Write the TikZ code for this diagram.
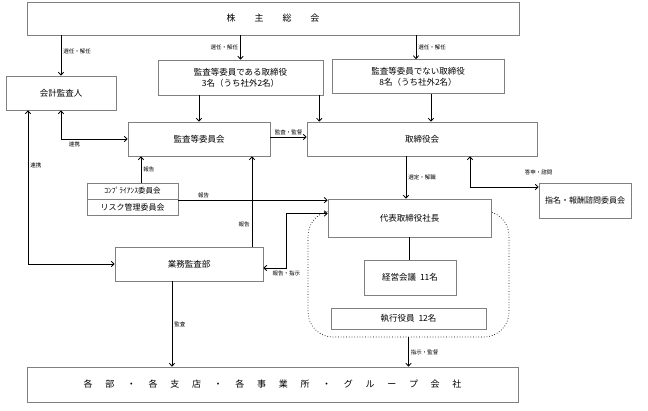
\documentclass[tikz,border=0pt]{standalone}
\usepackage{fontspec}
\setmainfont{Noto Sans CJK JP}
\usetikzlibrary{arrows.meta,positioning}
\newcommand{\wsp}{\hspace{12.7pt}}

\begin{document}
\begin{tikzpicture}[x=1pt, y=-1pt, >={Straight Barb[length=3pt,width=5.5pt]},
    box/.style={draw=gray, fill=white, line width=.6pt, align=center, inner sep=0pt, font=\fontsize{8.5}{11}\selectfont},
    lbl/.style={font=\fontsize{5.5}{6}\selectfont, inner sep=2pt},
    arr/.style={->, line width=.8pt}]
    \useasboundingbox (0,0) rectangle (648,411);
    \node[draw, dotted, rounded corners=25pt, line width=.7pt, minimum width=201pt, minimum height=126pt] (group) at (408.5,274) {};
    \node[box, minimum width=492pt, minimum height=33pt, font=\fontsize{9}{10}\selectfont] (soukai) at (273,18.5) {株\hspace{19pt}主\hspace{19pt}総\hspace{19pt}会};
    \node[box, minimum width=110pt, minimum height=34pt] (kaikei) at (61,93) {会計監査人};
    \node[box, minimum width=165pt, minimum height=35pt] (kansatori) at (240.5,77.5) {監査等委員である取締役\\3名（うち社外2名）};
    \node[box, minimum width=172pt, minimum height=34pt] (torinot) at (418,76.5) {監査等委員でない取締役\\8名（うち社外2名）};
    \node[box, minimum width=142pt, minimum height=34pt] (kansaiin) at (199,139) {監査等委員会};
    \node[box, minimum width=230pt, minimum height=34pt] (torikai) at (422,139) {取締役会};
    \node[box, minimum width=91pt, minimum height=16pt, font=\fontsize{7.5}{8}\selectfont] (comp) at (132.5,191) {ｺﾝﾌﾟﾗｲｱﾝｽ委員会};
    \node[box, minimum width=91pt, minimum height=16pt, font=\fontsize{8}{9}\selectfont] (risk) at (132.5,207) {リスク管理委員会};
    \node[box, minimum width=92pt, minimum height=35pt, font=\fontsize{8}{9}\selectfont] (shimei) at (585,200.5) {指名・報酬諮問委員会};
    \node[box, minimum width=163pt, minimum height=38pt] (shacho) at (409.5,218) {代表取締役社長};
    \node[box, minimum width=148pt, minimum height=34pt] (gyomu) at (189,264) {業務監査部};
    \node[box, minimum width=92pt, minimum height=35pt] (keiei) at (410,277.5) {経営会議\hspace{4pt}11名};
    \node[box, minimum width=155pt, minimum height=21pt] (shikko) at (408.5,318.5) {執行役員\hspace{4pt}12名};
    \node[box, minimum width=491pt, minimum height=35pt, font=\fontsize{9}{10}\selectfont] (kakubu) at (272.5,384.5) {各\wsp 部\wsp ・\wsp 各\wsp 支\wsp 店\wsp ・\wsp 各\wsp 事\wsp 業\wsp 所\wsp ・\wsp グ\wsp ル\wsp ー\wsp プ\wsp 会\wsp 社};

    \draw[arr] (soukai.south -| kaikei) -- (kaikei.north) node[lbl, right, pos=.4] {選任・解任};
    \draw[arr] (soukai.south -| kansatori) -- (kansatori.north) node[lbl, left, midway] {選任・解任};
    \draw[arr] ([xshift=-2pt]soukai.south -| torinot) -- ([xshift=-2pt]torinot.north) node[lbl, right, midway] {選任・解任};
    \draw[arr] (kansatori.south -| kansaiin) -- (kansaiin.north);
    \draw[arr] ([xshift=-4pt]kansatori.south east) -- ([xshift=-4pt]kansatori.south east |- torikai.north);
    \draw[arr] ([xshift=13pt]torinot.south) -- ([xshift=13pt]torinot.south |- torikai.north);
    \draw[<->, line width=.8pt] (kaikei.south) |- (kansaiin.west) node[lbl, below, pos=.6] {連携};
    \draw[<->, line width=.8pt] ([xshift=-33pt]kaikei.south) |- (gyomu.west) node[lbl, right, pos=.18] {連携};
    \draw[arr] ([yshift=2pt]kansaiin.east) -- ([yshift=2pt]kansaiin.east -| torikai.west) node[lbl, above, midway] {監査・監督};
    \draw[arr] ([xshift=8.5pt]comp.north) -- ([xshift=8.5pt]comp.north |- kansaiin.south) node[lbl, right, midway] {報告};
    \draw[arr] ([yshift=-1.5pt]risk.north east) -- ([yshift=-1.5pt]risk.north east -| shacho.west) node[lbl, above, pos=.17] {報告};
    \draw[arr] ([xshift=63pt]gyomu.north) -- ([xshift=63pt]gyomu.north |- kansaiin.south) node[lbl, left, pos=.25] {報告};
    \draw[<->, line width=.8pt] ([yshift=-4pt]gyomu.east) -- ++(23,0) node[lbl, below] {報告・指示} |- ([yshift=4.5pt]shacho.west);
    \draw[arr] ([xshift=-16pt]torikai.south) -- ([xshift=-16pt]torikai.south |- shacho.north) node[lbl, right, midway] {選定・解職};
    \draw[<->, line width=.8pt] ([xshift=48pt]torikai.south) |- ([yshift=13.5pt]shimei.west) node[lbl, above=10pt, pos=1] {答申・諮問};
    \draw[line width=.8pt] (shacho.south) -- (shacho.south |- keiei.north);
    \draw[arr] (group.south) -- (group.south |- kakubu.north) node[lbl, right, midway] {指示・監督};
    \draw[arr] ([xshift=-17pt]gyomu.south) -- ([xshift=-17pt]gyomu.south |- kakubu.north) node[lbl, right, midway] {監査};
\end{tikzpicture}
\end{document}
